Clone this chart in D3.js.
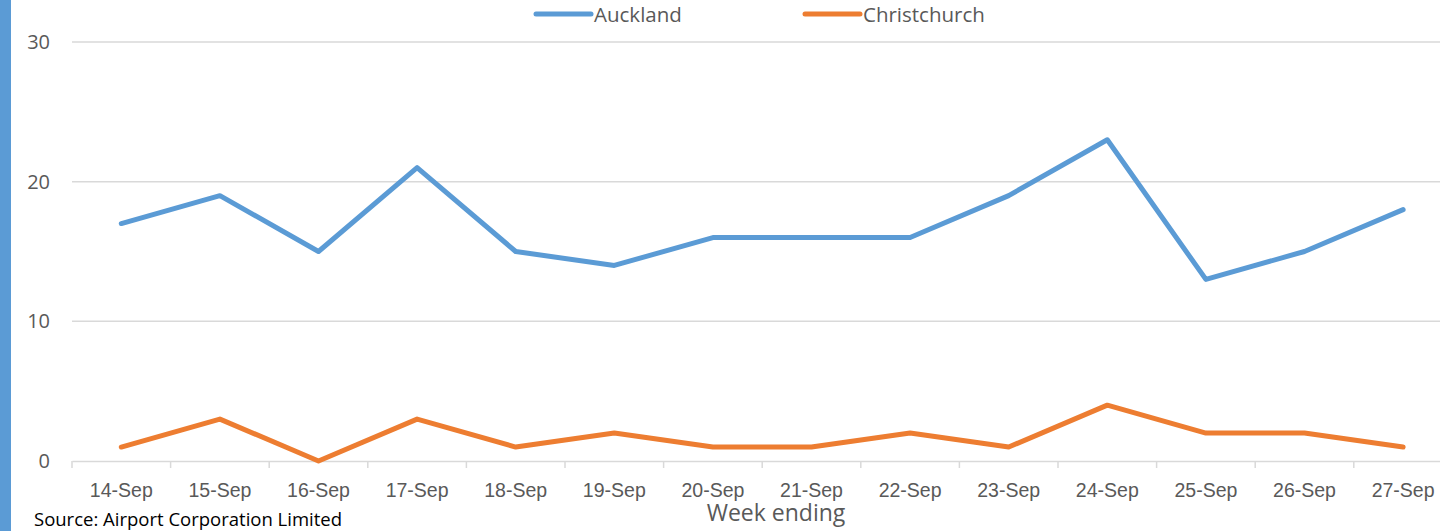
<!DOCTYPE html>
<html lang="en">
<head>
    <meta charset="UTF-8">
    <title>Weekly arrivals</title>
    <script src="https://d3js.org/d3.v7.min.js"></script>
    <style>
        body { margin: 0; background: #fff; }
        svg { display: block; font-family: "Open Sans", "Noto Sans", sans-serif; }
        .grid line { stroke: #d9d9d9; stroke-width: 1.5px; }
        .tick text { fill: #595959; }
    </style>
</head>
<body>
    <svg></svg>
    <script>
        // values
        const weeks = ["14-Sep", "15-Sep", "16-Sep", "17-Sep", "18-Sep", "19-Sep", "20-Sep",
                       "21-Sep", "22-Sep", "23-Sep", "24-Sep", "25-Sep", "26-Sep", "27-Sep"];
        const auckland = [17, 19, 15, 21, 15, 14, 16, 16, 16, 19, 23, 13, 15, 18];
        const christchurch = [1, 3, 0, 3, 1, 2, 1, 1, 2, 1, 4, 2, 2, 1];
        const yTicks = [0, 10, 20, 30];

        const width = 1440, height = 531;
        const svg = d3.select("svg").attr("width", width).attr("height", height);

        // left accent bar
        svg.append("rect").attr("x", 0).attr("y", 0).attr("width", 11).attr("height", height).attr("fill", "#5b9bd5");

        const x = d3.scaleBand().domain(weeks).range([72, 72 + 98.6 * weeks.length]);
        const y = d3.scaleLinear().domain([0, 30]).range([461, 42]);

        // horizontal gridlines
        svg.append("g").attr("class", "grid")
            .selectAll("line").data(yTicks.filter(d => d > 0)).enter().append("line")
            .attr("x1", 72).attr("x2", width).attr("y1", d => y(d)).attr("y2", d => y(d));

        // y labels
        svg.append("g").selectAll("text").data(yTicks).enter().append("text")
            .attr("x", 50).attr("y", d => y(d) + 7).attr("text-anchor", "end")
            .attr("fill", "#595959").style("font-size", "20px").text(d => d);

        // x axis
        const xAxis = svg.append("g").attr("transform", "translate(0,461)")
            .call(d3.axisBottom(x).tickSize(0).tickPadding(22));
        xAxis.select(".domain").attr("stroke", "#d9d9d9").attr("stroke-width", 1.5);
        xAxis.selectAll(".tick text").style("font-size", "19.5px");
        // tick marks between categories
        xAxis.selectAll(".sep").data(weeks).enter().append("line")
            .attr("x1", d => x(d)).attr("x2", d => x(d)).attr("y1", 0).attr("y2", 7)
            .attr("stroke", "#d9d9d9").attr("stroke-width", 1.5);

        const line = d3.line().x((d, i) => x(weeks[i]) + x.bandwidth() / 2).y(d => y(d));
        const series = [
            { name: "Auckland", values: auckland, color: "#5b9bd5" },
            { name: "Christchurch", values: christchurch, color: "#ed7d31" }
        ];
        series.forEach(s => {
            svg.append("path").datum(s.values).attr("d", line)
                .attr("fill", "none").attr("stroke", s.color).attr("stroke-width", 5)
                .attr("stroke-linecap", "round").attr("stroke-linejoin", "round");
        });

        // legend
        const legX = [536, 805];
        series.forEach((s, i) => {
            svg.append("line").attr("x1", legX[i]).attr("x2", legX[i] + 55).attr("y1", 14).attr("y2", 14)
                .attr("stroke", s.color).attr("stroke-width", 5).attr("stroke-linecap", "round");
            svg.append("text").attr("x", legX[i] + 58).attr("y", 22)
                .attr("fill", "#595959").style("font-size", "20.5px").text(s.name);
        });

        // titles
        svg.append("text").attr("x", 776).attr("y", 521).attr("text-anchor", "middle")
            .attr("fill", "#595959").style("font-size", "23px").text("Week ending");
        svg.append("text").attr("x", 34).attr("y", 526)
            .attr("fill", "#000").style("font-size", "18.5px").text("Source: Airport Corporation Limited");
    </script>
</body>
</html>
